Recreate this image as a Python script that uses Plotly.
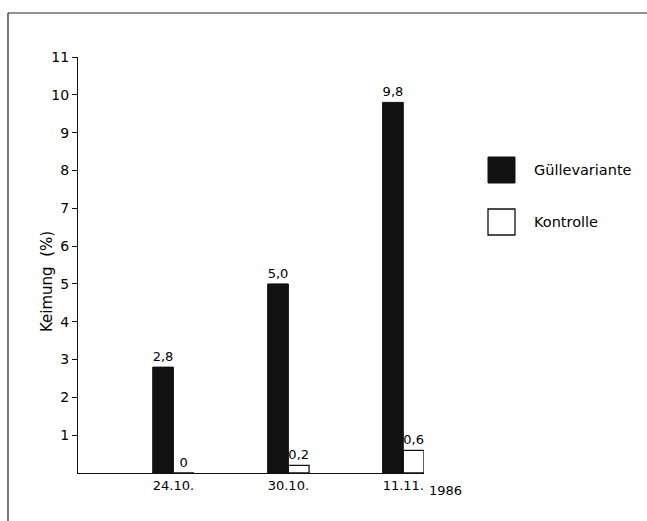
import plotly.graph_objects as go

categories = ["24.10.", "30.10.", "11.11."]
guelle = [2.8, 5.0, 9.8]
kontrolle = [0.0, 0.2, 0.6]
guelle_labels = ["2,8", "5,0", "9,8"]
kontrolle_labels = ["0", "0,2", "0,6"]
y_ticks = list(range(1, 12))
year_label = "1986"

FONT = "DejaVu Sans"

fig = go.Figure()
fig.add_trace(go.Bar(
    x=categories, y=guelle, name="Güllevariante",
    marker=dict(color="#111111", line=dict(color="#111111", width=1)),
    text=guelle_labels, textposition="outside", cliponaxis=False,
    textfont=dict(family=FONT, size=13, color="black"),
))
fig.add_trace(go.Bar(
    x=categories, y=kontrolle, name="Kontrolle",
    marker=dict(color="white", line=dict(color="#111111", width=1.3)),
    text=kontrolle_labels, textposition="outside", cliponaxis=False,
    textfont=dict(family=FONT, size=13, color="black"),
))

# plot area: x 78..424 px, y 57..473 px
L, R, T, B = 78, 424, 57, 473
W, H = R - L, B - T
def px(x): return (x - L) / W
def py(y): return (B - y) / H

fig.update_layout(
    width=647, height=521,
    margin=dict(l=L, r=647 - R, t=T, b=521 - B),
    paper_bgcolor="white", plot_bgcolor="white",
    showlegend=False,
    barmode="group", bargap=0.64, bargroupgap=0,
    font=dict(family=FONT, size=13, color="black"),
    xaxis=dict(
        type="category", range=[-0.83, 2.18],
        showline=True, linecolor="#111111", linewidth=1.3,
        showgrid=False, ticks="", zeroline=False,
        tickfont=dict(family=FONT, size=13, color="black"),
    ),
    yaxis=dict(
        range=[0, 11], tickvals=y_ticks, ticktext=[str(v) for v in y_ticks],
        showline=True, linecolor="#111111", linewidth=1.3,
        showgrid=False, zeroline=False,
        ticks="outside", ticklen=5, tickcolor="#111111", tickwidth=1.2,
        tickfont=dict(family=FONT, size=14, color="black"),
    ),
)

shapes = [
    # scanned frame: left and top edges
    dict(type="line", xref="paper", yref="paper", x0=px(8), x1=px(8), y0=py(13), y1=py(521),
         line=dict(color="#222222", width=1.2)),
    dict(type="line", xref="paper", yref="paper", x0=px(8), x1=px(647), y0=py(13), y1=py(13),
         line=dict(color="#222222", width=1.2)),
    # legend boxes
    dict(type="rect", xref="paper", yref="paper", x0=px(488), x1=px(515), y0=py(183), y1=py(157),
         fillcolor="#111111", line=dict(color="#111111", width=1)),
    dict(type="rect", xref="paper", yref="paper", x0=px(488), x1=px(515), y0=py(235), y1=py(209),
         fillcolor="white", line=dict(color="#111111", width=1.3)),
]
annotations = [
    dict(text="Güllevariante", xref="paper", yref="paper", x=px(532), y=py(170),
         xanchor="left", yanchor="middle", showarrow=False,
         font=dict(family=FONT, size=14.5, color="black")),
    dict(text="Kontrolle", xref="paper", yref="paper", x=px(532), y=py(222),
         xanchor="left", yanchor="middle", showarrow=False,
         font=dict(family=FONT, size=14.5, color="black")),
    dict(text="Keimung  (%)", xref="paper", yref="paper", x=px(47), y=py(282),
         xanchor="center", yanchor="middle", textangle=-90, showarrow=False,
         font=dict(family=FONT, size=15, color="black")),
    dict(text=year_label, xref="paper", yref="paper", x=px(427), y=py(490),
         xanchor="left", yanchor="middle", showarrow=False,
         font=dict(family=FONT, size=13, color="black")),
]
fig.update_layout(shapes=shapes, annotations=annotations)

fig.write_html(
    "out.html",
    config={"displayModeBar": False},
    post_script="document.body.style.margin='0';document.body.style.overflow='hidden';",
)
